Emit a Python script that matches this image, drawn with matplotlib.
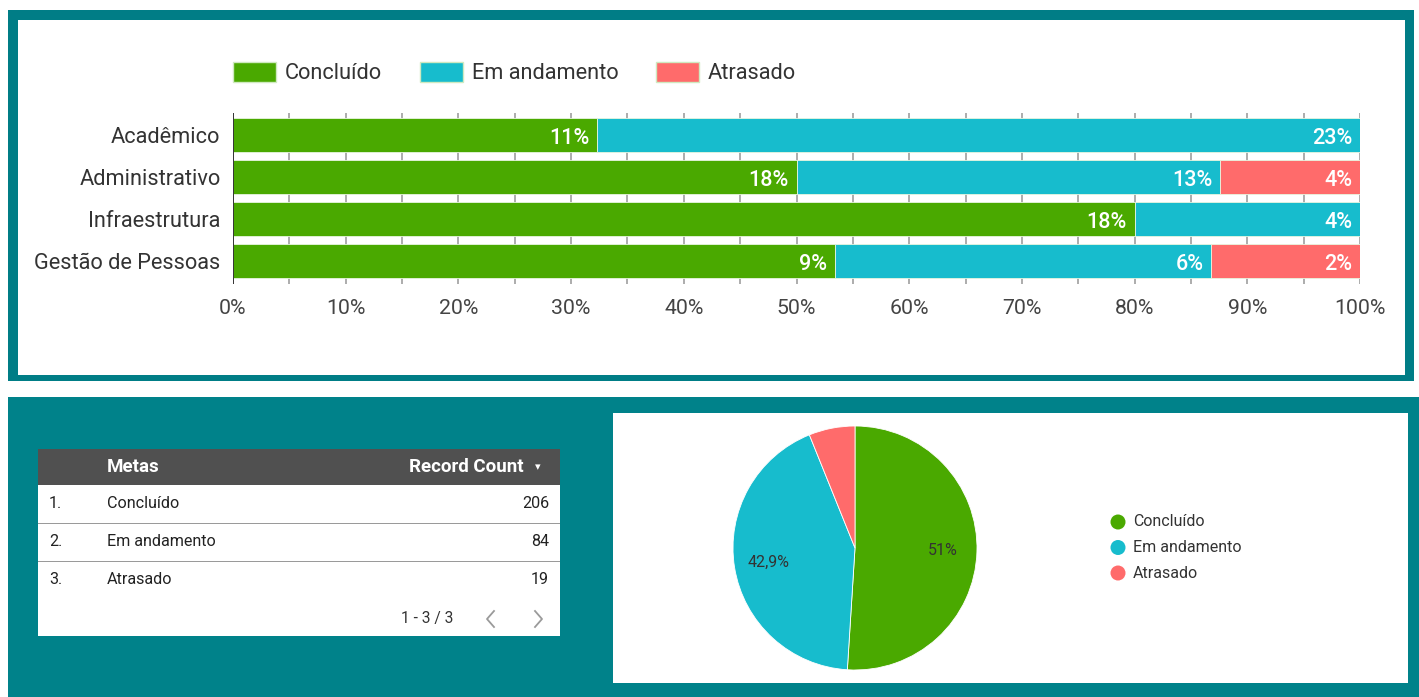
import numpy as np
import matplotlib
matplotlib.use("Agg")
import matplotlib.pyplot as plt
from matplotlib.patches import Rectangle, Patch, Ellipse

# ==========================================================
# Data
# ==========================================================

categories = ["Acadêmico", "Administrativo", "Infraestrutura", "Gestão de Pessoas"]
statuses = ["Concluído", "Em andamento", "Atrasado"]

# share of each bar (percent of the row)
share_concluido = [32.3, 50.0, 80.0, 53.4]
share_andamento = [67.7, 37.6, 20.0, 33.4]
share_atrasado = [0.0, 12.4, 0.0, 13.2]

# label printed on each segment (percent of total)
label_concluido = [11, 18, 18, 9]
label_andamento = [23, 13, 4, 6]
label_atrasado = [0, 4, 0, 2]

table_counts = [206, 84, 19]
pie_shares = [51.0, 42.9, 6.1]

colors = ["#4aa900", "#17bccd", "#ff6b6b"]
teal = "#00828a"

plt.rcParams["font.family"] = ["Roboto", "DejaVu Sans"]

W, H = 1419, 697
fig = plt.figure(figsize=(W / 100, H / 100), dpi=100)
fig.patch.set_facecolor("white")


def rect(x0, y0, x1, y1, color, z=0, **kw):
    fig.add_artist(Rectangle((x0 / W, 1 - y1 / H), (x1 - x0) / W, (y1 - y0) / H,
                             transform=fig.transFigure, facecolor=color,
                             edgecolor="none", zorder=z, **kw))


def txt(x, y, s, **kw):
    fig.text(x / W, 1 - y / H, s, **kw)


def line(xs, ys, **kw):
    fig.add_artist(plt.Line2D([x / W for x in xs], [1 - v / H for v in ys],
                              transform=fig.transFigure, **kw))


def axbox(x0, y0, x1, y1):
    return [x0 / W, 1 - y1 / H, (x1 - x0) / W, (y1 - y0) / H]


# ==========================================================
# Panels
# ==========================================================

rect(8, 10, 1414, 381, "#007d86", z=0)
rect(18, 20, 1405, 375, "white", z=1)
rect(8, 397, 1419, 697, teal, z=0)
rect(613, 413, 1408, 683, "white", z=1)
rect(38, 449, 560, 636, "white", z=1)
rect(38, 449, 560, 485, "#505050", z=2)

# ==========================================================
# Stacked 100% bar chart
# ==========================================================

ax = fig.add_axes(axbox(233, 113, 1360, 284))
ax.set_zorder(3)
ax.patch.set_alpha(0)

y = np.arange(len(categories))
shares = [share_concluido, share_andamento, share_atrasado]
labels = [label_concluido, label_andamento, label_atrasado]

for g in range(0, 101, 5):
    ax.axvline(g, color="#333333" if g == 0 else "#9e9e9e",
               lw=1.4 if g == 0 else 1.2, zorder=0 if g else 3)

left = np.zeros(len(categories))
for s, lab, col, name in zip(shares, labels, colors, statuses):
    s = np.array(s)
    ax.barh(y, s, left=left, height=0.79, color=col, label=name,
            edgecolor="#e8f5e0", linewidth=0.6, zorder=2)
    for i in range(len(categories)):
        if lab[i] > 0:
            ax.text(left[i] + s[i] - 0.7, y[i] + 0.02, f"{lab[i]}%", ha="right",
                    va="center_baseline", color="white", fontsize=15.5,
                    fontweight="medium", zorder=4)
    left += s

ax.set_xlim(0, 100)
ax.set_ylim(3 + 23 / 42, -22 / 42)
ax.set_yticks(y)
ax.set_yticklabels(categories, fontsize=15.7, color="#333333")
ax.set_xticks(range(0, 101, 10))
ax.set_xticklabels([f"{v}%" for v in range(0, 101, 10)], fontsize=15.3,
                   color="#444444")
ax.tick_params(length=0)
ax.tick_params(axis="x", pad=11)
ax.tick_params(axis="y", pad=9)
for sp in ax.spines.values():
    sp.set_visible(False)

handles = [Patch(facecolor=c, edgecolor="#cfe9c0", label=n) for c, n in zip(colors, statuses)]
fig.legend(handles=handles, loc="upper left",
           bbox_to_anchor=(233 / W, 1 - 62 / H), ncol=3, frameon=False,
           fontsize=15.7, handlelength=1.97, handleheight=1.0,
           handletextpad=0.42, columnspacing=1.72, borderpad=0,
           borderaxespad=0, labelcolor="#333333")

# ==========================================================
# Table
# ==========================================================

txt(107, 467, "Metas", color="white", fontsize=13.5, fontweight="bold",
    va="center", zorder=5)
txt(524, 467, "Record Count", color="white", fontsize=13.5,
    fontweight="bold", va="center", ha="right", zorder=5)
txt(538, 467, "▾", color="white", fontsize=8, va="center", ha="center", zorder=5)

row_y = [503, 541, 579]
for i, (name, cnt) in enumerate(zip(statuses, table_counts)):
    txt(49, row_y[i], f"{i + 1}.", fontsize=11.6, color="#222222",
        va="center", zorder=5)
    txt(107, row_y[i], name, fontsize=11.6, color="#222222", va="center", zorder=5)
    txt(549, row_y[i], str(cnt), fontsize=11.6, color="#222222",
        va="center", ha="right", zorder=5)
for sep in [523, 561]:
    rect(38, sep - 0.5, 560, sep + 0.5, "#9a9a9a", z=4)

txt(427, 618, "1 - 3 / 3", fontsize=11.2, color="#333333", va="center",
    ha="center", zorder=5)
line([494, 487, 494], [611, 619, 627], color="#9a9a9a", lw=1.3, zorder=5)
line([535, 542, 535], [611, 619, 627], color="#9a9a9a", lw=1.3, zorder=5)

# ==========================================================
# Pie chart
# ==========================================================

pax = fig.add_axes(axbox(733, 426, 977, 670))
pax.set_zorder(3)


def fmt(p):
    if p < 8:
        return ""
    s = f"{p:.1f}".replace(".", ",")
    if s.endswith(",0"):
        s = s[:-2]
    return s + "%"


wedges, texts, autotexts = pax.pie(pie_shares, colors=colors, startangle=90,
                                   counterclock=False, autopct=fmt,
                                   pctdistance=0.72,
                                   wedgeprops=dict(edgecolor="white", linewidth=0.6),
                                   textprops=dict(fontsize=11.5, color="#333333"))
pax.set_xlim(-1, 1)
pax.set_ylim(-1, 1)
pax.set_aspect("equal")

for i, name in enumerate(statuses):
    yy = 522 + i * 25.5
    fig.add_artist(Ellipse((1118 / W, 1 - yy / H), 15 / W, 15 / H,
                           transform=fig.transFigure,
                           facecolor=colors[i], edgecolor="none", zorder=5))
    txt(1133, yy, name, fontsize=11.5, color="#333333", va="center", zorder=5)

fig.savefig("out.png", dpi=100)
